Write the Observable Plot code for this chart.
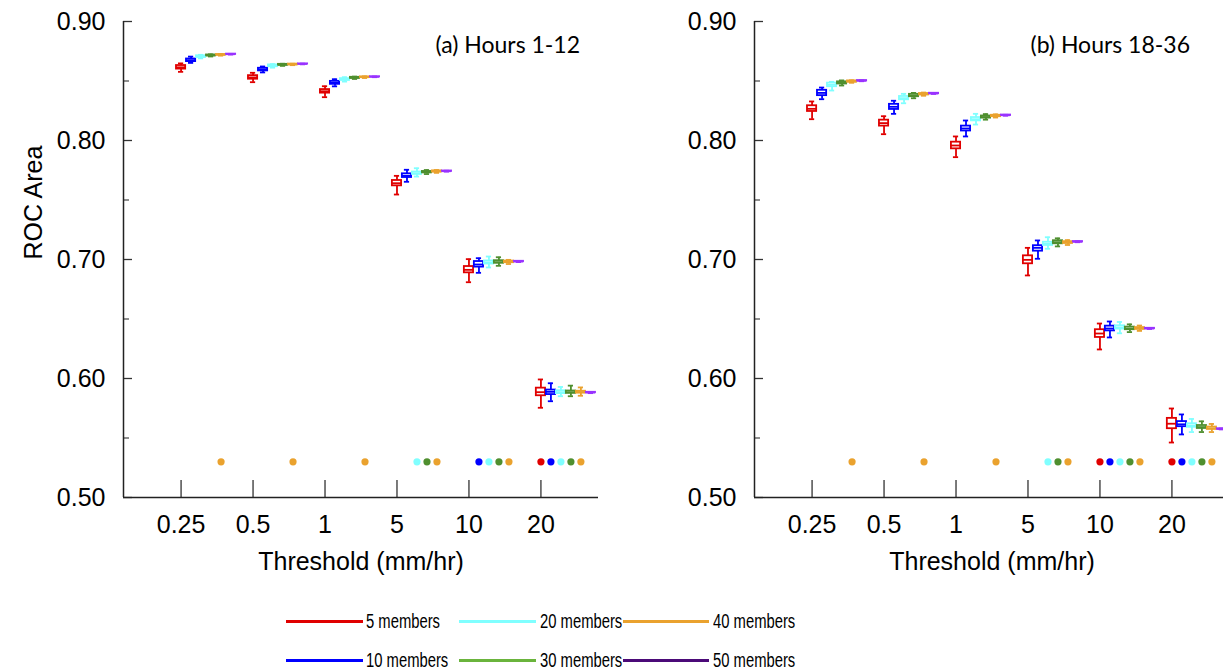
<!DOCTYPE html>
<html><head><meta charset="utf-8">
<script src="https://cdn.jsdelivr.net/npm/d3@7"></script>
<script src="https://cdn.jsdelivr.net/npm/@observablehq/plot@0.6"></script>
<style>
body{margin:0;background:#fff;}
#wrap{position:relative;width:1223px;height:671px;overflow:hidden;background:#fff;}
.panel{position:absolute;top:0;}
.lg-line{position:absolute;height:3px;}
.lg-text{position:absolute;font-family:"Liberation Sans",Arial,sans-serif;font-size:20px;color:#000;line-height:1;white-space:nowrap;transform:scaleX(0.74);transform-origin:0 50%;}
</style></head><body><div id="wrap"></div>
<script>
// ---------- data ----------
const thresholds = ["0.25", "0.5", "1", "5", "10", "20"];
const members = ["5 members", "10 members", "20 members", "30 members", "40 members", "50 members"];
const memberColors = ["#e00000", "#0000ff", "#80ffff", "#4f8f2f", "#eaa22e", "#9933ff"];
const legendColors = ["#e00000", "#0000ff", "#80ffff", "#6ab43c", "#eaa22e", "#4b0a78"];

// Panel (a) Hours 1-12 : [threshold][member]
const aLo = [
  [0.8577, 0.8652, 0.8690, 0.8706, 0.8713, 0.8722],
  [0.8490, 0.8572, 0.8612, 0.8627, 0.8633, 0.8640],
  [0.8364, 0.8455, 0.8495, 0.8517, 0.8525, 0.8532],
  [0.7546, 0.7653, 0.7697, 0.7718, 0.7728, 0.7738],
  [0.6809, 0.6888, 0.6933, 0.6947, 0.6962, 0.6978],
  [0.5754, 0.5809, 0.5851, 0.5851, 0.5855, 0.5877]];
const aQ1 = [
  [0.8600, 0.8663, 0.8698, 0.8711, 0.8717, 0.8723],
  [0.8515, 0.8585, 0.8620, 0.8632, 0.8636, 0.8642],
  [0.8398, 0.8472, 0.8505, 0.8522, 0.8529, 0.8534],
  [0.7619, 0.7689, 0.7715, 0.7728, 0.7735, 0.7740],
  [0.6888, 0.6936, 0.6962, 0.6968, 0.6973, 0.6981],
  [0.5855, 0.5865, 0.5873, 0.5875, 0.5877, 0.5880]];
const aMed = [
  [0.8615, 0.8675, 0.8705, 0.8715, 0.8720, 0.8725],
  [0.8530, 0.8597, 0.8628, 0.8636, 0.8639, 0.8643],
  [0.8414, 0.8485, 0.8513, 0.8527, 0.8532, 0.8535],
  [0.7641, 0.7703, 0.7725, 0.7734, 0.7740, 0.7742],
  [0.6913, 0.6958, 0.6975, 0.6978, 0.6980, 0.6983],
  [0.5885, 0.5888, 0.5885, 0.5885, 0.5885, 0.5882]];
const aQ3 = [
  [0.8630, 0.8685, 0.8712, 0.8719, 0.8723, 0.8726],
  [0.8545, 0.8607, 0.8635, 0.8640, 0.8642, 0.8644],
  [0.8428, 0.8497, 0.8520, 0.8531, 0.8535, 0.8536],
  [0.7664, 0.7720, 0.7735, 0.7740, 0.7745, 0.7744],
  [0.6941, 0.6983, 0.6988, 0.6990, 0.6987, 0.6985],
  [0.5919, 0.5903, 0.5897, 0.5895, 0.5893, 0.5884]];
const aHi = [
  [0.8648, 0.8705, 0.8720, 0.8724, 0.8727, 0.8728],
  [0.8569, 0.8622, 0.8642, 0.8645, 0.8645, 0.8646],
  [0.8456, 0.8515, 0.8532, 0.8537, 0.8539, 0.8538],
  [0.7703, 0.7754, 0.7767, 0.7752, 0.7752, 0.7746],
  [0.7003, 0.7011, 0.7025, 0.7019, 0.6997, 0.6988],
  [0.5992, 0.5960, 0.5929, 0.5940, 0.5925, 0.5887]];

// Panel (b) Hours 18-36 : [threshold][member]
const bLo = [
  [0.8179, 0.8347, 0.8420, 0.8462, 0.8485, 0.8498],
  [0.8053, 0.8224, 0.8313, 0.8355, 0.8376, 0.8391],
  [0.7860, 0.8034, 0.8134, 0.8175, 0.8193, 0.8208],
  [0.6866, 0.7006, 0.7090, 0.7110, 0.7122, 0.7145],
  [0.6244, 0.6345, 0.6380, 0.6390, 0.6400, 0.6416],
  [0.5462, 0.5530, 0.5550, 0.5550, 0.5550, 0.5572]];
const bQ1 = [
  [0.8244, 0.8377, 0.8452, 0.8475, 0.8490, 0.8500],
  [0.8121, 0.8261, 0.8342, 0.8368, 0.8383, 0.8393],
  [0.7930, 0.8080, 0.8165, 0.8188, 0.8200, 0.8210],
  [0.6964, 0.7070, 0.7118, 0.7132, 0.7135, 0.7147],
  [0.6345, 0.6400, 0.6415, 0.6410, 0.6413, 0.6418],
  [0.5578, 0.5595, 0.5590, 0.5580, 0.5572, 0.5574]];
const bMed = [
  [0.8266, 0.8400, 0.8468, 0.8485, 0.8496, 0.8502],
  [0.8146, 0.8283, 0.8356, 0.8378, 0.8389, 0.8395],
  [0.7958, 0.8101, 0.8179, 0.8197, 0.8206, 0.8212],
  [0.6997, 0.7098, 0.7132, 0.7146, 0.7143, 0.7149],
  [0.6378, 0.6420, 0.6429, 0.6420, 0.6420, 0.6420],
  [0.5620, 0.5615, 0.5605, 0.5592, 0.5582, 0.5576]];
const bQ3 = [
  [0.8292, 0.8422, 0.8482, 0.8493, 0.8501, 0.8504],
  [0.8171, 0.8304, 0.8370, 0.8388, 0.8395, 0.8397],
  [0.7986, 0.8121, 0.8193, 0.8206, 0.8212, 0.8214],
  [0.7031, 0.7116, 0.7145, 0.7158, 0.7150, 0.7151],
  [0.6410, 0.6440, 0.6443, 0.6432, 0.6428, 0.6422],
  [0.5665, 0.5638, 0.5620, 0.5605, 0.5592, 0.5578]];
const bHi = [
  [0.8328, 0.8445, 0.8493, 0.8505, 0.8506, 0.8506],
  [0.8204, 0.8334, 0.8392, 0.8400, 0.8403, 0.8399],
  [0.8034, 0.8168, 0.8224, 0.8222, 0.8220, 0.8216],
  [0.7098, 0.7160, 0.7187, 0.7178, 0.7163, 0.7153],
  [0.6462, 0.6479, 0.6475, 0.6455, 0.6445, 0.6424],
  [0.5748, 0.5698, 0.5660, 0.5640, 0.5618, 0.5580]];

// significance markers: member indices flagged per threshold
const sigA = [[4], [4], [4], [2, 3, 4], [1, 2, 3, 4], [0, 1, 2, 3, 4]];
const sigB = [[4], [4], [4], [2, 3, 4], [0, 1, 2, 3, 4], [0, 1, 2, 3, 4]];
const sigLevel = 0.53;

const yMajor = [0.5, 0.6, 0.7, 0.8, 0.9];
const yMinor = [0.55, 0.65, 0.75, 0.85];

// ---------- layout ----------
const W = 615, H = 590, mL = 123, mR = 17, mT = 21, mB = 93;
const plotW = W - mL - mR, plotH = H - mT - mB;
const xDomain = [-0.8, 5.8];
const step = 10 / 72;      // member offset within a threshold group
const bw = 4.6 / 72;       // box half width
const cw = 2.6 / 72;       // whisker cap half width
const axisFont = "Liberation Sans, Arial, sans-serif";

function rowsFor(lo, q1, med, q3, hi) {
  const rows = [];
  thresholds.forEach((t, c) => members.forEach((m, k) => {
    rows.push({pos: c + k * step, member: m, lo: lo[c][k], q1: q1[c][k], med: med[c][k], q3: q3[c][k], hi: hi[c][k]});
  }));
  return rows;
}
function sigRows(sig) {
  const rows = [];
  sig.forEach((list, c) => list.forEach(k => rows.push({pos: c + k * step, member: members[k], v: sigLevel})));
  return rows;
}

function panel(rows, sig, title, titleDx, showYLabel) {
  return Plot.plot({
    width: W, height: H, marginLeft: mL, marginRight: mR, marginTop: mT, marginBottom: mB,
    style: {fontFamily: axisFont, fontSize: "25px", background: "white", color: "#000"},
    x: {domain: xDomain, axis: null},
    y: {domain: [0.5, 0.9], axis: null},
    color: {domain: members, range: memberColors},
    marks: [
      Plot.axisY({ticks: yMajor, tickFormat: d3.format(".2f"), tickSize: 0, tickPadding: 18, label: null, fontSize: 25}),
      Plot.axisX({ticks: d3.range(thresholds.length), tickFormat: i => thresholds[i], tickSize: 0, tickPadding: 18, label: null, fontSize: 25}),
      Plot.tickY(yMajor, {y: d => d, insetRight: plotW - 9, stroke: "#333", strokeWidth: 1.3}),
      Plot.tickY(yMinor, {y: d => d, insetRight: plotW - 6, stroke: "#333", strokeWidth: 1.1}),
      Plot.tickX(d3.range(thresholds.length), {x: d => d, insetTop: plotH - 17, stroke: "#333", strokeWidth: 1.3}),
      Plot.ruleX([xDomain[0]], {stroke: "#222", strokeWidth: 1.5}),
      Plot.ruleY([0.5], {stroke: "#222", strokeWidth: 1.5}),
      // whiskers
      Plot.ruleX(rows, {x: "pos", y1: "lo", y2: "q1", stroke: "member", strokeWidth: 1.8}),
      Plot.ruleX(rows, {x: "pos", y1: "q3", y2: "hi", stroke: "member", strokeWidth: 1.8}),
      Plot.ruleY(rows, {y: "lo", x1: d => d.pos - cw, x2: d => d.pos + cw, stroke: "member", strokeWidth: 1.8}),
      Plot.ruleY(rows, {y: "hi", x1: d => d.pos - cw, x2: d => d.pos + cw, stroke: "member", strokeWidth: 1.8}),
      // boxes
      Plot.rect(rows, {x1: d => d.pos - bw, x2: d => d.pos + bw, y1: "q1", y2: "q3", fill: "white", stroke: "member", strokeWidth: 1.8}),
      Plot.ruleY(rows, {y: "med", x1: d => d.pos - bw, x2: d => d.pos + bw, stroke: "member", strokeWidth: 1.8}),
      // significance dots
      Plot.dot(sigRows(sig), {x: "pos", y: "v", fill: "member", r: 3.6}),
      // panel title
      Plot.text([title], {frameAnchor: "top-left", dx: titleDx, dy: 24, textAnchor: "start", lineAnchor: "middle", fontSize: 23, fontFamily: "Lato, 'Open Sans', sans-serif"}),
      // x label
      Plot.text(["Threshold (mm/hr)"], {frameAnchor: "bottom", dy: 64, lineAnchor: "middle", fontSize: 25}),
      ...(showYLabel ? [Plot.text(["ROC Area"], {frameAnchor: "left", dx: -90, rotate: -90, lineAnchor: "middle", fontSize: 25})] : [])
    ]
  });
}

const wrap = document.getElementById("wrap");
const pa = panel(rowsFor(aLo, aQ1, aMed, aQ3, aHi), sigA, "(a) Hours 1-12", 312, true);
pa.classList.add("panel"); pa.style.left = "0px";
const pb = panel(rowsFor(bLo, bQ1, bMed, bQ3, bHi), sigB, "(b) Hours 18-36", 276, false);
pb.classList.add("panel"); pb.style.left = "631px";
wrap.appendChild(pa); wrap.appendChild(pb);

// legend (two rows x three columns)
const colLineX = [286, 459, 623], colLineW = [77, 77, 86], colTextX = [366, 540, 713], rowY = [621, 660];
members.forEach((m, i) => {
  const row = i % 2, col = Math.floor(i / 2);
  const ln = document.createElement("div");
  ln.className = "lg-line";
  ln.style.left = colLineX[col] + "px"; ln.style.top = (rowY[row] - 1.5) + "px";
  ln.style.width = colLineW[col] + "px"; ln.style.background = legendColors[i];
  wrap.appendChild(ln);
  const tx = document.createElement("div");
  tx.className = "lg-text";
  tx.textContent = m;
  tx.style.left = colTextX[col] + "px"; tx.style.top = (rowY[row] - 10.5) + "px";
  wrap.appendChild(tx);
});
</script></body></html>
